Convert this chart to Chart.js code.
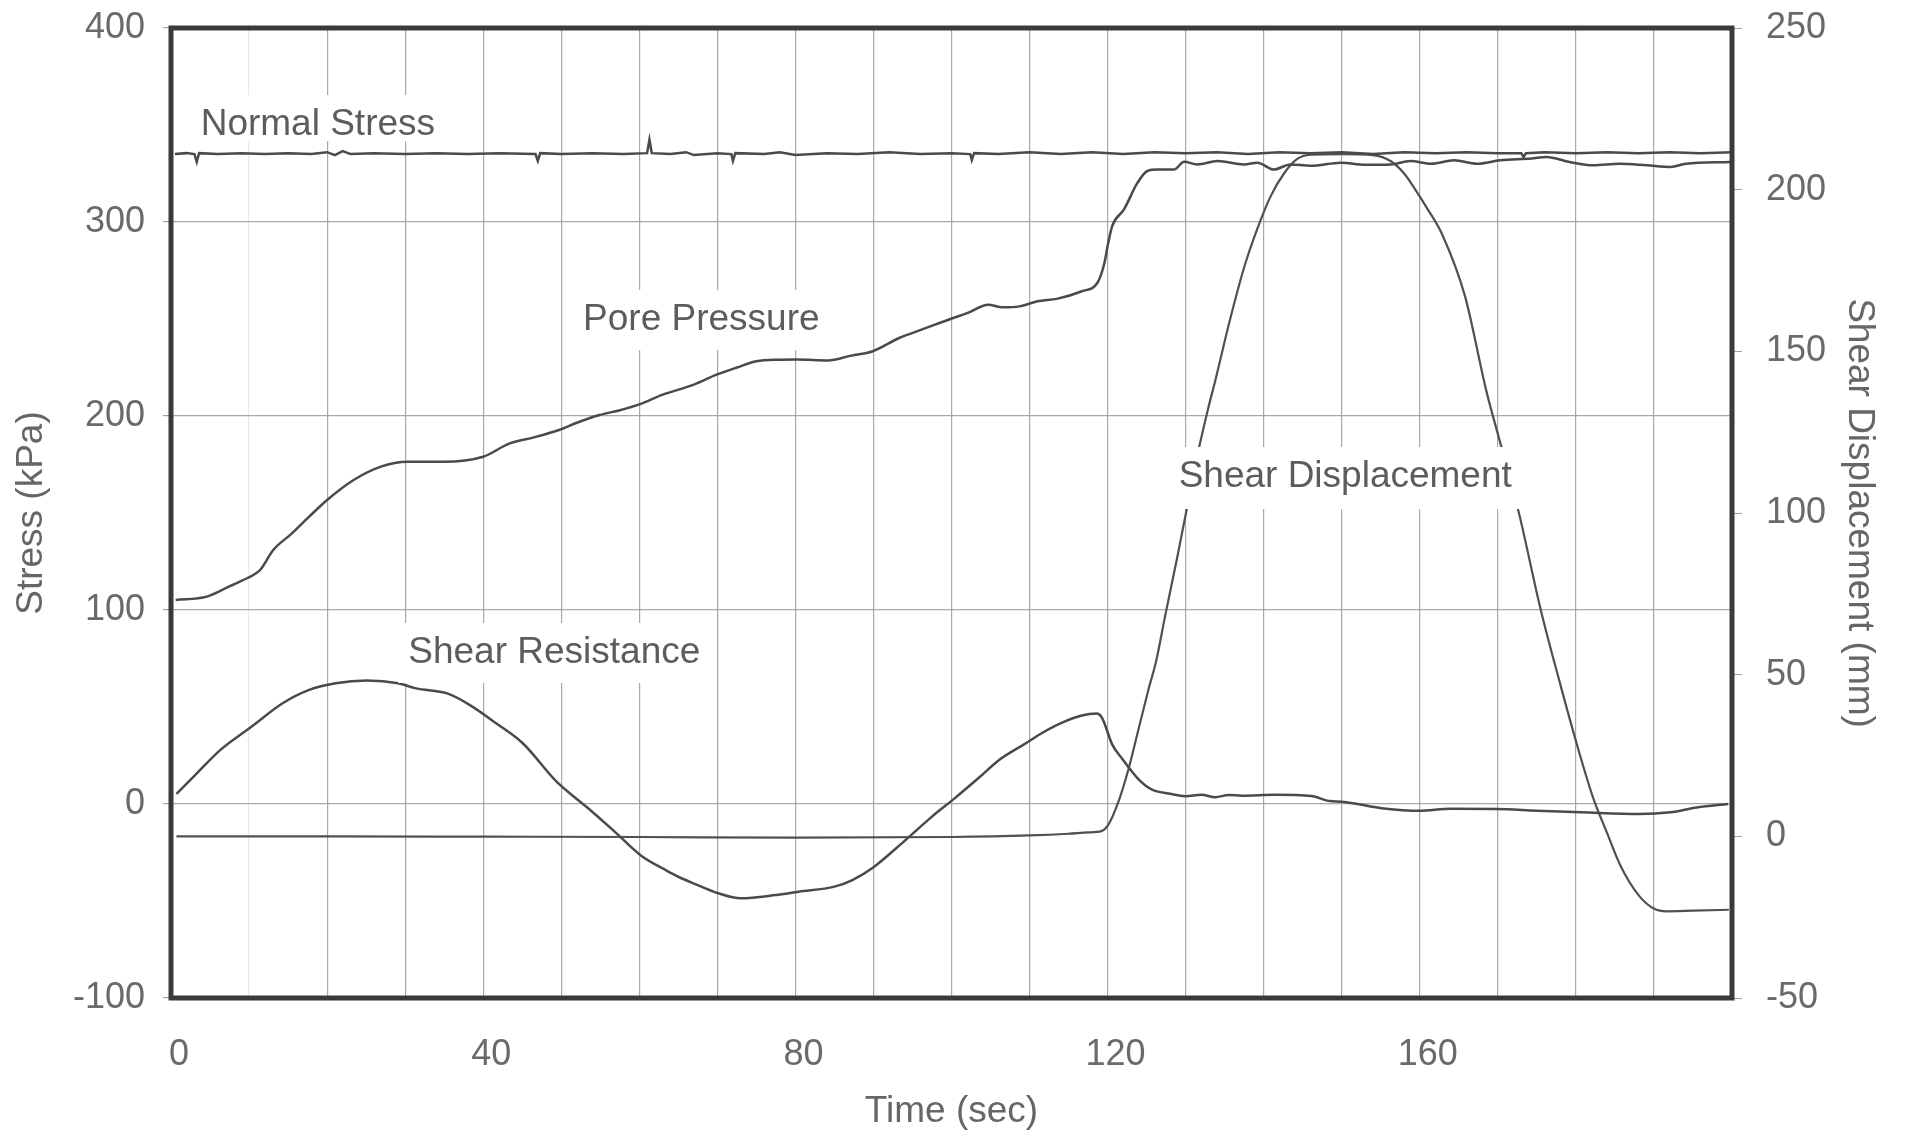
<!DOCTYPE html>
<html>
<head>
<meta charset="utf-8">
<title>Stress and shear displacement vs time</title>
<script src="https://cdn.jsdelivr.net/npm/chart.js@4.4.1/dist/chart.umd.min.js"></script>
<style>
  html, body { margin: 0; padding: 0; background: #ffffff; }
  canvas { display: block; }
</style>
</head>
<body>
<canvas id="shearChart" width="1905" height="1140"></canvas>
<script>
// values
const timeTicks = [0, 10, 20, 30, 40, 50, 60, 70, 80, 90, 100, 110, 120, 130, 140, 150, 160, 170, 180, 190];
const stressTicks = [-100, 0, 100, 200, 300, 400];
const dispTicks = [-50, 0, 50, 100, 150, 200, 250];
const curveLabels = ['Normal Stress', 'Pore Pressure', 'Shear Resistance', 'Shear Displacement'];

const normalTime = [0.5, 2, 3, 3.3, 3.6, 6, 9, 12, 15, 18, 20, 21, 22, 23, 26, 30, 34, 38, 42, 46.7, 47, 47.3, 50, 54, 58, 61, 61.3, 61.6, 64, 66, 67, 70, 71.8, 72, 72.3, 76, 78, 80, 84, 88, 92, 96, 100, 102.4, 102.6, 102.9, 106, 110, 114, 118, 122, 126, 130, 134, 138, 142, 146, 150, 154, 158, 162, 166, 170, 173, 173.3, 173.6, 176, 180, 184, 188, 192, 196, 200];
const normalStress = [335, 335.5, 335, 331, 335.5, 335, 335.5, 335, 335.5, 335, 336, 334.5, 336.5, 335, 335.5, 335, 335.5, 335, 335.5, 335, 331.5, 335.5, 335, 335.5, 335, 335.5, 342.5, 335.5, 335, 336, 334.5, 335.5, 335, 331.5, 335.5, 335, 336, 334.5, 335.5, 335, 336, 335, 335.5, 335, 332, 335.5, 335, 336, 335, 336, 335, 336, 335.5, 336, 335, 336, 335.5, 336, 335, 336, 335.5, 336, 335.5, 335.5, 333.5, 335.5, 336, 335.5, 336, 335.5, 336, 335.5, 336];

const poreTime = [0.6, 4.6, 7.4, 8.2, 10.9, 11.5, 13.1, 15.5, 17.7, 20, 23.4, 26.9, 30.3, 34.9, 40, 43.4, 46.5, 49.7, 52, 54.9, 57.5, 60, 63, 67, 69.9, 72.5, 75, 78, 80.2, 84.2, 87, 89.9, 93.3, 96.5, 100.2, 102, 104.7, 106.5, 108.7, 111, 113.6, 116.7, 118.7, 119.6, 120, 120.6, 122.1, 123.8, 125.1, 126.4, 128.5, 129.8, 131.5, 134.1, 137.5, 139.2, 141.3, 143.4, 146, 149.9, 153, 156.3, 158.8, 161.5, 164.4, 167.3, 170.3, 174.3, 176.2, 179.2, 182.2, 185.6, 189.1, 192.1, 194.1, 199.8];
const porePressure = [105.2, 106.9, 112, 113.5, 118.9, 121, 130.9, 139.5, 148.1, 156.7, 167, 173.9, 176.4, 176.4, 179, 185.9, 189, 192.8, 196.5, 200.5, 203, 206, 211, 216.2, 221.3, 225, 228.2, 229, 229.1, 228.6, 231, 233.4, 240.2, 245, 250.5, 253, 257.4, 256, 256.5, 259.1, 260.5, 264.3, 268.7, 279, 287.6, 298, 306.5, 320, 326.3, 327, 327, 331, 329.7, 331.4, 329.7, 330.6, 327, 329.7, 329, 330.6, 329.5, 329.7, 331.4, 330, 331.8, 330, 331.8, 332.7, 333.5, 330.9, 329.2, 330, 329.2, 328.4, 330, 330.9];

const resistTime = [0.7, 2.9, 6.3, 10.3, 14.3, 17.7, 21.1, 25.1, 29.1, 31.4, 35.4, 38.3, 41.7, 45.1, 49.4, 53.3, 56.7, 60.2, 63.5, 65, 67, 70.1, 73, 77.5, 80.4, 85, 87.3, 90.1, 94.1, 97.5, 100.4, 103.5, 106.1, 109.4, 111.6, 114.1, 116.7, 118.6, 119.3, 120.6, 121.8, 124, 125.7, 127.8, 130, 132, 133.8, 135.5, 137.2, 141.5, 146.1, 148.5, 150, 155.4, 159.9, 164, 169.8, 175, 180.7, 188.1, 192.1, 195.5, 199.5];
const shearResistance = [5.2, 14.1, 27.8, 39.8, 51.9, 58.8, 62.2, 63.6, 62.2, 59.6, 57, 51, 41.5, 31.2, 11.5, -1.7, -13.7, -26.5, -34.3, -37.5, -41, -46, -48.6, -46.9, -45.2, -42.6, -39.2, -32.3, -18.6, -6.5, 2.9, 13.5, 22.7, 31, 36.6, 41.8, 45.6, 46.6, 44.3, 30.6, 23.7, 12.6, 7.4, 5.4, 4, 4.8, 3.5, 4.6, 4.3, 4.8, 4.1, 1.5, 1.2, -2.3, -3.5, -2.5, -2.6, -3.5, -4.3, -5.2, -4.3, -1.8, 0];

const dispTime = [0.7, 20, 40, 60, 80, 100, 110, 115, 117.5, 119.2, 120.1, 121.4, 122.7, 124, 125.3, 126.2, 127.4, 128.9, 130, 131.7, 132.9, 133.8, 135.6, 137.5, 139.2, 140.9, 142.6, 144.3, 146, 150, 154, 156.3, 158, 159.3, 161, 162.9, 165.8, 168.5, 170.5, 172.7, 175.5, 178, 180.3, 182.2, 184, 185.7, 188.1, 190.1, 191.6, 195, 199.6];
const shearDisplacement = [0, 0, -0.1, -0.2, -0.4, -0.2, 0.3, 0.8, 1.2, 1.6, 3.6, 10.8, 21, 33.5, 46, 54, 68.5, 86, 99.5, 120, 132.5, 141, 159, 176, 188, 198, 205, 209.5, 210.8, 211, 210.7, 208.8, 205, 200.5, 194, 186, 167, 138, 120, 100, 70, 47, 27, 12, 1, -9, -18.4, -22.5, -23.2, -23, -22.7];

// where each curve name sits, in data units (time, kPa)
const noteSpots = [
  { t: 3.8, v: 344.8, below: 6 },
  { t: 52.8, v: 244.3, below: 20 },
  { t: 30.4, v: 72.7, below: 20 },
  { t: 129.1, v: 163.4, below: 22 }
];

const toPoints = (xs, ys) => xs.map((x, i) => ({ x: x, y: ys[i] }));
const fontFamily = '"Liberation Sans", Arial, sans-serif';
Chart.defaults.font.family = fontFamily;

const curveNotes = {
  id: 'curveNotes',
  afterDatasetsDraw(chart) {
    const { ctx, scales } = chart;
    ctx.save();
    ctx.font = '37px ' + fontFamily;
    ctx.textBaseline = 'alphabetic';
    noteSpots.forEach((spot, i) => {
      const px = scales.x.getPixelForValue(spot.t);
      const py = scales.y.getPixelForValue(spot.v);
      const w = ctx.measureText(curveLabels[i]).width;
      ctx.fillStyle = '#ffffff';
      ctx.fillRect(px - 10, py - 40, w + 20, 40 + spot.below);
      ctx.fillStyle = '#5c5c5c';
      ctx.fillText(curveLabels[i], px, py);
    });
    ctx.restore();
  },
  afterDraw(chart) {
    const { ctx, chartArea } = chart;
    ctx.save();
    ctx.strokeStyle = '#3a3a3a';
    ctx.lineWidth = 5;
    ctx.strokeRect(chartArea.left, chartArea.top, chartArea.right - chartArea.left, chartArea.bottom - chartArea.top);
    ctx.restore();
  }
};

const lineStyle = {
  borderColor: '#4a4a4a',
  borderWidth: 2.5,
  pointRadius: 0,
  fill: false
};

// fixed axis sizes so the plot frame lands where the scan has it
const fixSide = width => scale => {
  scale.width = width;
  scale.paddingTop = 0;
  scale.paddingBottom = 0;
};

new Chart(document.getElementById('shearChart'), {
  type: 'line',
  data: {
    datasets: [
      Object.assign({ label: curveLabels[0], data: toPoints(normalTime, normalStress), yAxisID: 'y', tension: 0 }, lineStyle),
      Object.assign({ label: curveLabels[1], data: toPoints(poreTime, porePressure), yAxisID: 'y', cubicInterpolationMode: 'monotone' }, lineStyle),
      Object.assign({ label: curveLabels[2], data: toPoints(resistTime, shearResistance), yAxisID: 'y', cubicInterpolationMode: 'monotone' }, lineStyle),
      Object.assign({}, lineStyle, { label: curveLabels[3], data: toPoints(dispTime, shearDisplacement), yAxisID: 'y2', cubicInterpolationMode: 'monotone', borderColor: '#505050', borderWidth: 2.2 })
    ]
  },
  options: {
    responsive: false,
    animation: false,
    devicePixelRatio: 1,
    layout: { padding: { top: 28, right: 0, bottom: 0, left: 0 } },
    plugins: {
      legend: { display: false },
      tooltip: { enabled: false }
    },
    scales: {
      x: {
        type: 'linear',
        min: 0,
        max: 200,
        afterBuildTicks: scale => { scale.ticks = timeTicks.map(v => ({ value: v })); },
        afterFit: scale => { scale.height = 142; },
        border: { display: false },
        grid: {
          drawTicks: false,
          lineWidth: 1.2,
          color: c => c.tick.value === 0 ? 'rgba(0,0,0,0)' : (c.tick.value === 10 ? '#e8e8e8' : '#a8a8a8')
        },
        ticks: {
          autoSkip: false,
          maxRotation: 0,
          padding: 35,
          labelOffset: 8,
          color: '#6a6a6a',
          font: { size: 36 },
          callback: v => xTicksShown(v)
        },
        title: {
          display: true,
          text: 'Time (sec)',
          color: '#666666',
          font: { size: 37 },
          padding: { top: 0, bottom: 6 }
        }
      },
      y: {
        position: 'left',
        min: -100,
        max: 400,
        afterBuildTicks: scale => { scale.ticks = stressTicks.map(v => ({ value: v })); },
        afterFit: fixSide(171),
        border: { display: false },
        grid: {
          tickLength: 8,
          tickColor: '#a0a0a0',
          lineWidth: 1.2,
          color: c => (c.tick.value === -100 || c.tick.value === 400) ? 'rgba(0,0,0,0)' : '#a8a8a8'
        },
        ticks: {
          padding: 18,
          color: '#6a6a6a',
          font: { size: 36 }
        },
        title: {
          display: true,
          text: 'Stress (kPa)',
          color: '#666666',
          font: { size: 37 },
          padding: { top: 10, bottom: 0 }
        }
      },
      y2: {
        position: 'right',
        min: -50,
        max: 250,
        afterBuildTicks: scale => { scale.ticks = dispTicks.map(v => ({ value: v })); },
        afterFit: fixSide(173),
        border: { display: false },
        grid: {
          drawOnChartArea: false,
          tickLength: 10,
          tickColor: '#a0a0a0'
        },
        ticks: {
          padding: 24,
          color: '#6a6a6a',
          font: { size: 36 }
        },
        title: {
          display: true,
          text: 'Shear Displacement (mm)',
          color: '#666666',
          font: { size: 37 },
          padding: { top: 24, bottom: 0 }
        }
      }
    }
  },
  plugins: [curveNotes]
});

function xTicksShown(v) {
  return v % 40 === 0 ? String(v) : '';
}
</script>
</body>
</html>
